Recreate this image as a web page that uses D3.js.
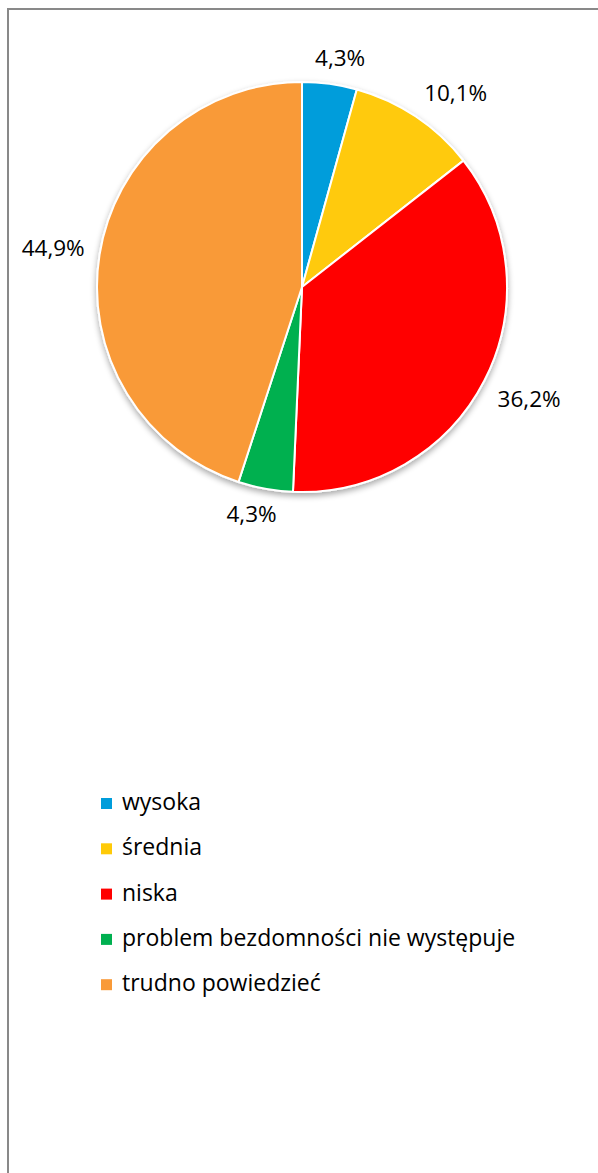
<!DOCTYPE html>
<html lang="pl">
<head>
<meta charset="UTF-8">
<title>Pie</title>
<style>
  body { margin: 0; background: #fff; }
  svg text { font-family: "Open Sans", "Noto Sans", sans-serif; fill: #000; }
</style>
</head>
<body>
<div id="chart"></div>
<script src="https://d3js.org/d3.v7.min.js"></script>
<script>
var categories = ["wysoka", "średnia", "niska", "problem bezdomności nie występuje", "trudno powiedzieć"];
var values = [4.3, 10.1, 36.2, 4.3, 44.9];
var colors = ["#009DDB", "#FFCA08", "#FF0000", "#00B050", "#F99A38"];

var W = 598, H = 1173;
var cx = 302, cy = 287, r = 205;

var svg = d3.select("#chart").append("svg")
    .attr("width", W)
    .attr("height", H);

// chart frame (right/bottom edge runs past the picture)
svg.append("rect")
    .attr("x", 8).attr("y", 9)
    .attr("width", W + 10).attr("height", H + 10)
    .attr("fill", "#fff")
    .attr("stroke", "#898989")
    .attr("stroke-width", 2);

var defs = svg.append("defs");
var f = defs.append("filter").attr("id", "shadow")
    .attr("x", "-20%").attr("y", "-20%").attr("width", "140%").attr("height", "140%");
f.append("feGaussianBlur").attr("in", "SourceAlpha").attr("stdDeviation", 3);
f.append("feOffset").attr("dx", 0).attr("dy", 3).attr("result", "b");
f.append("feComponentTransfer").append("feFuncA").attr("type", "linear").attr("slope", 0.35);
var m = f.append("feMerge");
m.append("feMergeNode");
m.append("feMergeNode").attr("in", "SourceGraphic");

var pie = d3.pie().sort(null).value(function(d) { return d; });
var arcs = pie(values);
var arc = d3.arc().innerRadius(0).outerRadius(r);

var g = svg.append("g").attr("transform", "translate(" + cx + "," + cy + ")");

g.append("g").attr("filter", "url(#shadow)")
  .selectAll("path")
    .data(arcs)
    .enter()
    .append("path")
    .attr("d", arc)
    .attr("fill", function(d, i) { return colors[i]; })
    .attr("stroke", "#fff")
    .attr("stroke-width", 2)
    .attr("stroke-linejoin", "round");

var fmt = function(v) { return v.toFixed(1).replace(".", ",") + "%"; };
var clamp = function(v) { return Math.max(-1, Math.min(1, v)); };

// labels: anchor a point just outside the rim, then push the box out along the mid angle
var labels = g.selectAll(".lbl")
    .data(arcs)
    .enter()
    .append("text")
    .attr("class", "lbl")
    .style("font-size", "22.5px")
    .attr("text-anchor", "middle")
    .text(function(d) { return fmt(d.data); });

labels.each(function(d) {
    var bb = this.getBBox();
    var a = (d.startAngle + d.endAngle) / 2;
    var sx = Math.sin(a), sy = -Math.cos(a);
    var rr = r + 15;
    var x = sx * rr + clamp(sx * 2.5) * bb.width / 2;
    var y = sy * rr + clamp(sy * 2.5) * 11;
    d3.select(this).attr("x", x).attr("y", y + 8);
});

// legend
var legend = svg.append("g").attr("transform", "translate(101,798)");
var row = legend.selectAll("g")
    .data(categories)
    .enter()
    .append("g")
    .attr("transform", function(d, i) { return "translate(0," + (i * 45.3) + ")"; });

row.append("rect")
    .attr("width", 11).attr("height", 11)
    .attr("fill", function(d, i) { return colors[i]; });

row.append("text")
    .attr("x", 21)
    .attr("y", 12)
    .style("font-size", "23px")
    .text(function(d) { return d; });
</script>
</body>
</html>
